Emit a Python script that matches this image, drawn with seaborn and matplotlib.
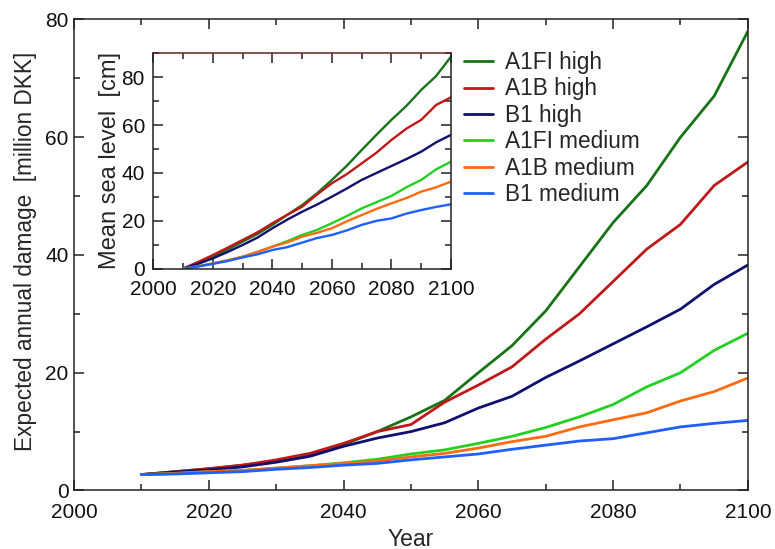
import numpy as np
import pandas as pd
import matplotlib
matplotlib.use("Agg")
import matplotlib.pyplot as plt
import seaborn as sns
from matplotlib.ticker import MultipleLocator

sns.set_theme(style="white")
plt.rcParams['font.family'] = ['Liberation Sans', 'DejaVu Sans']

years = list(range(2010, 2101, 5))
scenarios = ["A1FI high", "A1B high", "B1 high", "A1FI medium", "A1B medium", "B1 medium"]
colors = ["#167316", "#c01818", "#10106e", "#22d022", "#ff6a12", "#1e5fff"]

# Expected annual damage [million DKK]
damage_a1fi_high = [2.7, 3.2, 3.7, 4.3, 5.0, 6.0, 7.8, 10.0, 12.5, 15.3, 20.0, 24.6, 30.5, 38.0, 45.5, 51.8, 60.0, 67.0, 78.0]
damage_a1b_high = [2.7, 3.2, 3.7, 4.3, 5.2, 6.3, 8.0, 10.0, 11.2, 15.0, 17.9, 21.0, 25.7, 30.0, 35.5, 41.0, 45.2, 51.8, 55.8]
damage_b1_high = [2.7, 3.1, 3.5, 4.0, 4.8, 5.8, 7.5, 8.9, 10.0, 11.5, 14.0, 16.0, 19.2, 22.0, 24.9, 27.8, 30.8, 35.0, 38.3]
damage_a1fi_med = [2.7, 2.9, 3.2, 3.4, 3.8, 4.2, 4.7, 5.3, 6.2, 6.9, 8.0, 9.2, 10.7, 12.5, 14.6, 17.6, 20.0, 23.8, 26.7]
damage_a1b_med = [2.7, 2.9, 3.2, 3.4, 3.8, 4.2, 4.6, 5.0, 5.7, 6.3, 7.2, 8.3, 9.2, 10.8, 12.0, 13.2, 15.2, 16.8, 19.1]
damage_b1_med = [2.7, 2.8, 3.0, 3.2, 3.6, 3.9, 4.3, 4.6, 5.2, 5.7, 6.2, 7.0, 7.7, 8.4, 8.8, 9.8, 10.8, 11.4, 11.9]

# Mean sea level [cm]
slr_a1fi_high = [0, 2.5, 5.0, 8.0, 11.3, 14.5, 18.3, 22.5, 26.6, 31.5, 37.1, 43.0, 49.6, 56.0, 62.2, 68.0, 74.7, 80.5, 88.6]
slr_a1b_high = [0, 2.8, 5.7, 8.8, 12.0, 15.2, 19.0, 22.5, 25.9, 31.0, 35.7, 39.5, 44.0, 48.5, 53.8, 58.5, 62.2, 68.4, 71.6]
slr_b1_high = [0, 2.0, 4.3, 7.0, 9.9, 13.0, 16.9, 20.5, 23.8, 26.8, 30.1, 33.5, 37.1, 40.0, 42.9, 45.8, 48.9, 52.8, 55.9]
slr_a1fi_med = [0, 1.0, 2.2, 3.5, 5.0, 7.0, 9.2, 11.5, 14.1, 16.2, 19.0, 22.0, 25.2, 27.8, 30.4, 34.0, 37.1, 41.5, 44.7]
slr_a1b_med = [0, 1.0, 2.2, 3.5, 5.0, 7.0, 9.2, 11.0, 13.4, 15.0, 16.9, 19.8, 22.4, 25.0, 27.3, 29.5, 32.2, 34.0, 36.4]
slr_b1_med = [0, 0.9, 2.0, 3.2, 4.7, 6.0, 7.8, 9.0, 10.9, 12.8, 14.1, 16.0, 18.3, 20.0, 21.0, 23.0, 24.5, 25.8, 26.9]

damage = [damage_a1fi_high, damage_a1b_high, damage_b1_high, damage_a1fi_med, damage_a1b_med, damage_b1_med]
slr = [slr_a1fi_high, slr_a1b_high, slr_b1_high, slr_a1fi_med, slr_a1b_med, slr_b1_med]

def long_df(series):
    rows = []
    for name, vals in zip(scenarios, series):
        for y, v in zip(years, vals):
            rows.append({"Year": y, "value": v, "Scenario": name})
    return pd.DataFrame(rows)

df_dmg = long_df(damage)
df_slr = long_df(slr)
palette = dict(zip(scenarios, colors))

fig = plt.figure(figsize=(7.75, 5.49), dpi=100)
ax = fig.add_axes([0.0955, 0.1066, 0.8695, 0.8579])
sns.lineplot(data=df_dmg, x="Year", y="value", hue="Scenario", hue_order=scenarios,
             palette=palette, linewidth=2.0, ax=ax, legend=False)

def style_axes(a, fs, xpad, ypad, lw=1.1):
    a.set_facecolor("white")
    for s in a.spines.values():
        s.set_color("#222222")
        s.set_linewidth(lw)
        s.set_visible(True)
    a.xaxis.set_major_locator(MultipleLocator(20))
    a.xaxis.set_minor_locator(MultipleLocator(10))
    a.yaxis.set_major_locator(MultipleLocator(20))
    a.yaxis.set_minor_locator(MultipleLocator(10))
    a.tick_params(which="both", direction="in", top=True, right=True, bottom=True, left=True,
                  colors="#222222", labelcolor="#111111", labelsize=fs, width=lw)
    a.tick_params(which="major", length=7)
    a.tick_params(which="minor", length=4)
    a.tick_params(axis="x", which="major", pad=xpad)
    a.tick_params(axis="y", which="major", pad=ypad)
    a.grid(False)

ax.set_xlim(2000, 2100)
ax.set_ylim(0, 80)
style_axes(ax, 15, 9, 4)
ax.set_xlabel("Year", fontsize=16.5, labelpad=4)
ax.set_ylabel("Expected annual damage  [million DKK]", fontsize=16.3)
ax.yaxis.set_label_coords(-0.055, 0.508)

ins = fig.add_axes([0.1978, 0.5106, 0.3842, 0.3924])
sns.lineplot(data=df_slr, x="Year", y="value", hue="Scenario", hue_order=scenarios,
             palette=palette, linewidth=1.7, ax=ins, legend=True)
ins.set_xlim(2000, 2100)
ins.set_ylim(0, 90)
style_axes(ins, 15, 8, 6)
ins.spines["top"].set_color("#6a2222")
ins.set_xlabel("")
ins.set_ylabel("Mean sea level  [cm]", fontsize=17)
ins.yaxis.set_label_coords(-0.11, 0.5)

leg = ins.legend(loc="upper left", bbox_to_anchor=(1.045, 1.01), frameon=False,
                 fontsize=16.3, handlelength=1.25, handletextpad=0.55, labelspacing=0.15,
                 borderaxespad=0, borderpad=0)
for line in leg.get_lines():
    line.set_linewidth(2.0)

fig.savefig("out.png", dpi=100)
